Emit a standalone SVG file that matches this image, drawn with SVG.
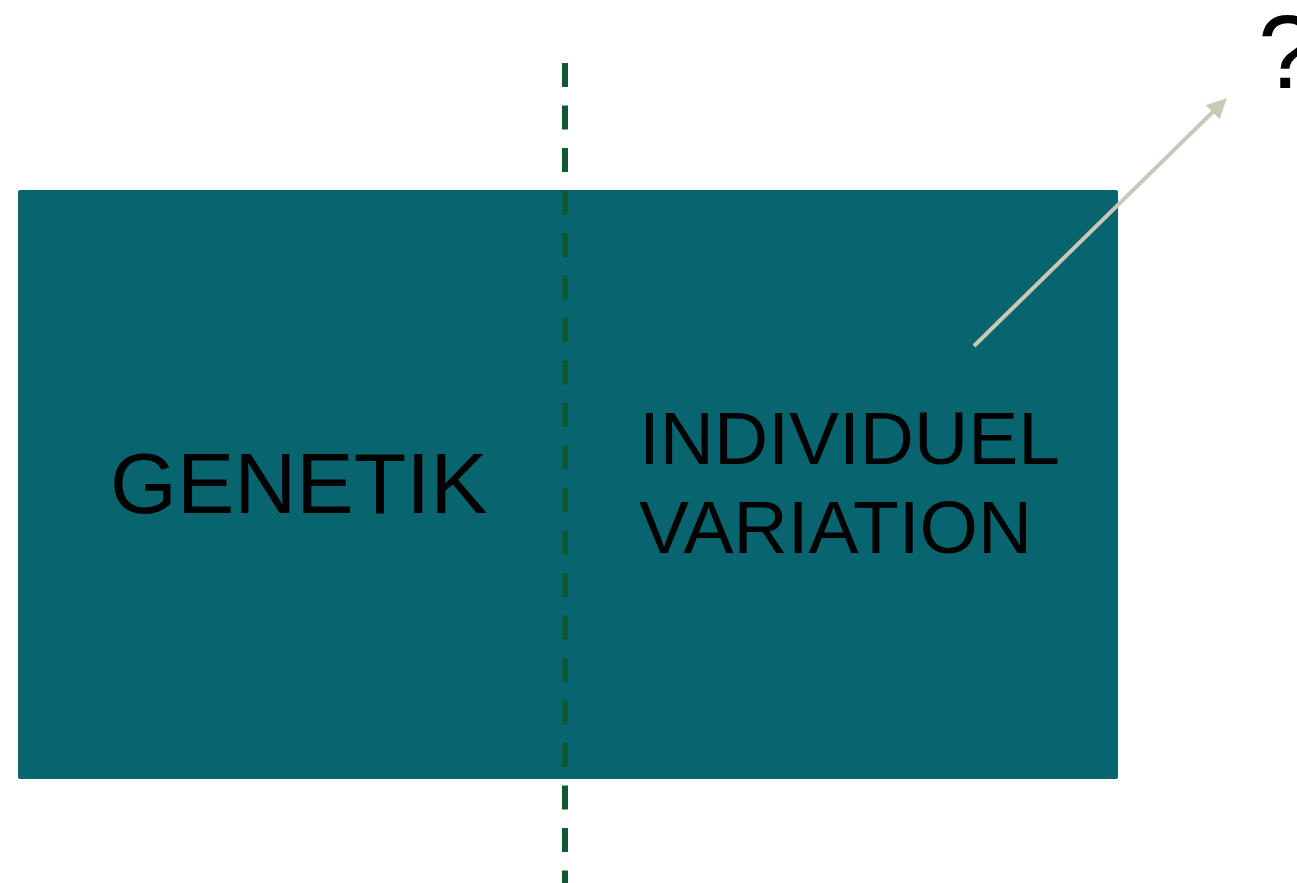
<svg xmlns="http://www.w3.org/2000/svg" width="1297" height="883" viewBox="0 0 1297 883">
<style>
.lbl{font-family:"Liberation Sans",Arial,sans-serif;fill:#000}
</style>
<defs>
<marker id="ah" markerWidth="5" markerHeight="5" refX="4" refY="2.5" orient="auto" markerUnits="strokeWidth">
<path d="M0,0 L5,2.5 L0,5 Z" fill="#c9c9b5"/>
</marker>
</defs>
<rect width="1297" height="883" fill="#fff"/>
<g id="box">
<rect x="18" y="190" width="1100" height="589" rx="2" fill="#08646f"/>
</g>
<g id="genetik">
<text class="lbl" x="110" y="513" font-size="86">GENETIK</text>
</g>
<g id="variation">
<text class="lbl" x="639" y="464" font-size="75">INDIVIDUEL</text>
<text class="lbl" x="639" y="553" font-size="75">VARIATION</text>
</g>
<g id="question">
<text class="lbl" x="1258" y="88" font-size="104">?</text>
</g>
<g id="connectors">
<line x1="974" y1="346" x2="1224" y2="101" stroke="#c9c9b5" stroke-width="4" marker-end="url(#ah)"/>
<line x1="565" y1="63" x2="565" y2="883" stroke="#0c5a32" stroke-width="6" stroke-dasharray="24 18.5"/>
</g>
</svg>
